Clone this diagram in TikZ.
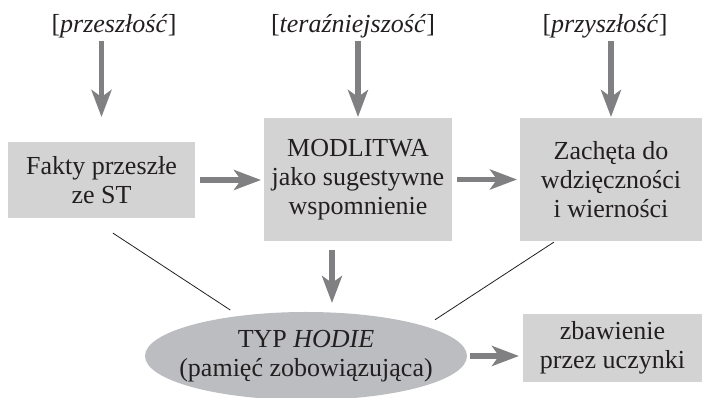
\documentclass[tikz,border=0pt]{standalone}
\usepackage{fontspec}
\setmainfont{Liberation Serif}
\usetikzlibrary{arrows.meta,shapes.geometric,calc}
\definecolor{boxgray}{RGB}{211,211,212}
\definecolor{ovalgray}{RGB}{188,189,192}
\definecolor{arrowgray}{RGB}{128,128,131}
\definecolor{ink}{RGB}{35,31,32}

\begin{document}
\begin{tikzpicture}[x=1pt,y=1pt,
    every node/.style={text=ink,font=\fontsize{26}{29}\selectfont,align=center},
    box/.style={fill=boxgray,inner sep=0pt,outer sep=0pt},
    tag/.style={anchor=base,inner sep=0pt},
    arr/.style={draw=arrowgray,line width=5.5pt,-{Stealth[length=27pt,width=20pt,inset=7pt]}},
    tie/.style={draw=ink,line width=0.8pt}]
    \useasboundingbox (0,0) rectangle (705,398);

    \node[box,minimum width=187pt,minimum height=76pt] (fakty) at (101.5,218) {Fakty przeszłe\\ze ST};
    \node[box,minimum width=188pt,minimum height=123pt] (modl) at (358,218.5) {MODLITWA\\jako sugestywne\\wspomnienie};
    \node[box,minimum width=182pt,minimum height=123pt] (zach) at (611,218.5) {Zachęta do\\wdzięczności\\i wierności};
    \node[ellipse,fill=ovalgray,minimum width=322pt,minimum height=88pt,
      inner xsep=-16pt,inner ysep=0pt,outer sep=0pt] (hodie) at (306,42) {TYP \textit{HODIE}\\(pamięć zobowiązująca)};
    \node[box,minimum width=179pt,minimum height=68pt] (zbaw) at (612.5,50) {zbawienie\\przez uczynki};

    \node[tag] (past) at (114,365) {[\textit{przeszłość}]};
    \node[tag] (now) at (353,365) {[\textit{teraźniejszość}]};
    \node[tag] (next) at (605,365) {[\textit{przyszłość}]};

    \draw[arr,shorten <=2.5pt,shorten >=25pt] (past.south -| fakty.north) -- (fakty.north);
    \draw[arr,shorten <=2.5pt,shorten >=1pt] (now.south -| modl.north) -- (modl.north);
    \draw[arr,shorten <=2.5pt,shorten >=1pt] (next.south -| zach.north) -- (zach.north);

    \draw[arr,shorten <=5pt,shorten >=3pt] (fakty.east) -- (fakty.east -| modl.west);
    \draw[arr,shorten <=5pt,shorten >=3pt] (modl.east) -- (modl.east -| zach.west);

    \coordinate (mid) at ($(modl.south)!.5!(hodie.north)$);
    \draw[arr,shorten <=9pt,shorten >=9pt] (mid |- modl.south) -- (mid |- hodie.north);
    \draw[arr,shorten <=3pt,shorten >=4pt] (hodie.east) -- (hodie.east -| zbaw.west);

    \draw[tie,shorten <=27.5pt,shorten >=10.8pt] (fakty.253) -- (hodie.149);
    \draw[tie,shorten <=2pt,shorten >=12pt] (zach.228) -- (hodie.14);
\end{tikzpicture}
\end{document}
